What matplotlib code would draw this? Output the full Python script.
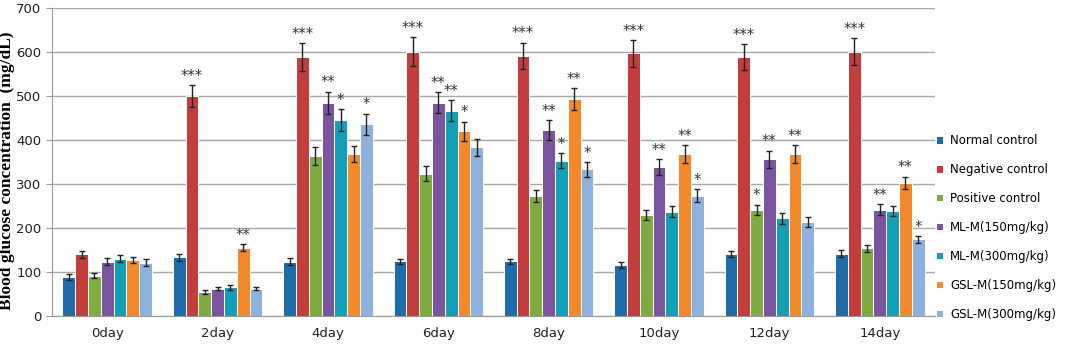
import numpy as np
import matplotlib
matplotlib.use("Agg")
import matplotlib.pyplot as plt

days = ["0day", "2day", "4day", "6day", "8day", "10day", "12day", "14day"]
groups = ["Normal control", "Negative control", "Positive control",
          "ML-M(150mg/kg)", "ML-M(300mg/kg)", "GSL-M(150mg/kg)", "GSL-M(300mg/kg)"]
colors = ["#1f6cab", "#c43d3d", "#7fab40", "#7a549e", "#12a0b8", "#f4892c", "#8db2dd"]

# mean glucose per group, one list per day column
normal   = [89, 133, 123, 124, 124, 116, 140, 142]
negative = [140, 500, 588, 601, 591, 597, 588, 601]
positive = [92, 54, 364, 323, 273, 230, 241, 154]
ml150    = [123, 62, 485, 485, 423, 339, 356, 242]
ml300    = [130, 65, 445, 467, 353, 237, 222, 239]
gsl150   = [127, 155, 368, 420, 493, 368, 368, 303]
gsl300   = [121, 62, 436, 383, 333, 273, 214, 174]

normal_err   = [7, 8, 8, 6, 6, 7, 7, 9]
negative_err = [8, 25, 32, 32, 30, 30, 30, 30]
positive_err = [6, 4, 20, 17, 14, 12, 12, 8]
ml150_err    = [8, 4, 25, 24, 22, 18, 20, 12]
ml300_err    = [8, 6, 25, 24, 17, 12, 12, 12]
gsl150_err   = [7, 8, 18, 22, 25, 20, 20, 14]
gsl300_err   = [8, 4, 24, 20, 17, 15, 12, 8]

# significance marks (index into groups)
stars = {
    1: {1: "***", 5: "**"},
    2: {1: "***", 3: "**", 4: "*", 6: "*"},
    3: {1: "***", 3: "**", 4: "**", 5: "*"},
    4: {1: "***", 3: "**", 4: "*", 5: "**", 6: "*"},
    5: {1: "***", 3: "**", 5: "**", 6: "*"},
    6: {1: "***", 2: "*", 3: "**", 5: "**"},
    7: {1: "***", 3: "**", 5: "**", 6: "*"},
}

means = [normal, negative, positive, ml150, ml300, gsl150, gsl300]
errs = [normal_err, negative_err, positive_err, ml150_err, ml300_err, gsl150_err, gsl300_err]

fig = plt.figure(figsize=(10.65, 3.48), dpi=100)
ax = fig.add_axes([52 / 1065, 32 / 348, 883 / 1065, 308 / 348])

x = np.arange(len(days))
bw = 0.116
for i, (m, e) in enumerate(zip(means, errs)):
    pos = x + (i - 3) * bw
    ax.bar(pos, m, width=bw, color=colors[i], edgecolor="white", linewidth=0.7,
           label=groups[i], zorder=3)
    ax.errorbar(pos, m, yerr=e, fmt="none", ecolor="#222222", elinewidth=1,
                capsize=2.5, capthick=1, zorder=4)

for d, marks in stars.items():
    for g, s in marks.items():
        top = means[g][d] + errs[g][d]
        ax.annotate(s, (x[d] + (g - 3) * bw, top), xytext=(0, 1), textcoords="offset points",
                    ha="center", va="bottom", fontsize=10.5, color="#333333")

ax.set_xlim(-0.5, len(days) - 0.5)
ax.set_ylim(0, 700)
ax.set_yticks(range(0, 701, 100))
ax.set_xticks(x)
ax.set_xticklabels(days)
ax.tick_params(axis="x", length=0, pad=8, labelsize=9.5, colors="#222222")
ax.tick_params(axis="y", length=4, color="#999999", labelsize=9.5, colors="#222222")
ax.yaxis.grid(True, color="#a8a8a8", linewidth=1, zorder=0)
for side in ["top", "right"]:
    ax.spines[side].set_visible(False)
ax.spines["left"].set_color("#999999")
ax.spines["bottom"].set_color("#999999")

ax.set_ylabel("Blood glucose concentration  (mg/dL)", family="Liberation Serif",
              fontweight="bold", fontsize=12.5)
ax.yaxis.set_label_coords(-37 / 883, 0.47)

fig.legend(loc="upper left", bbox_to_anchor=(936 / 1065, 1 - 134 / 348), frameon=False,
           fontsize=8.5, handlelength=0.6, handleheight=0.6, handletextpad=0.6,
           labelspacing=1.35, borderaxespad=0, borderpad=0)

fig.savefig("out.png", dpi=100)
